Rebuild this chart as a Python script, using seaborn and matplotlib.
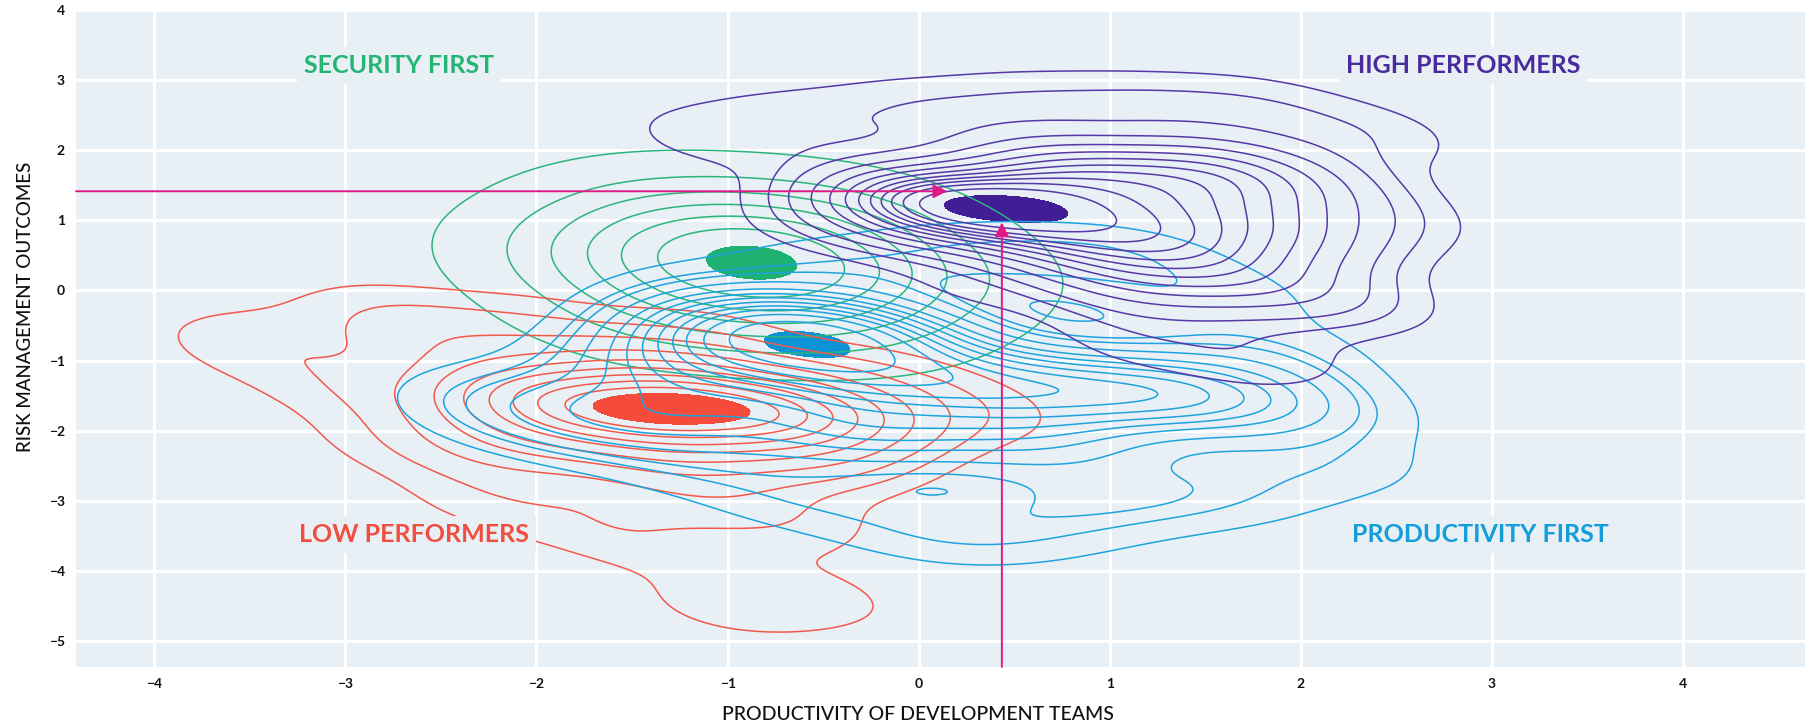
import numpy as np
import pandas as pd
import seaborn as sns
import matplotlib.pyplot as plt
from matplotlib.colors import ListedColormap

# ---------------- data (representative weighted points) ----
# HIGH PERFORMERS
high_x = [-0.05, 0.25, 0.55, 0.85,
          1.20, 1.20, 1.60, 1.60, 1.55, 2.00, 2.00, 1.90, 0.70, 0.80, 1.20,
          -1.10, -0.60, 0.00, 0.60, 1.20, 1.80, 2.40, 2.45, 2.30, 1.80, 1.10, -0.55, 0.20]
high_y = [1.21, 1.20, 1.17, 1.13,
          1.60, 0.75, 1.75, 1.05, 0.35, 1.50, 0.70, 0.00, 1.75, 0.50, 0.00,
          2.20, 2.45, 2.60, 2.70, 2.70, 2.65, 2.20, 1.00, -0.20, -1.00, -0.75, 0.90, 0.00]
high_w = [3.5, 3.5, 2.8, 2.0,
          2.5, 2.6, 2.0, 2.2, 1.8, 1.3, 1.3, 1.0, 2.3, 1.8, 1.3,
          0.6, 0.55, 0.6, 0.6, 0.6, 0.6, 0.6, 0.55, 0.55, 0.65, 0.45, 0.45, 0.35]

# PRODUCTIVITY FIRST
prod_x = [-0.85, -0.55, -0.25,
          -1.20, -0.30, 0.40, 1.10, 1.60,
          -0.30, 0.60, -1.30, -2.00,
          -1.10, -0.40, 0.30, 1.00, 1.50, 1.80, 2.00, 2.10,
          1.50, 0.90, 0.20, 0.70, -0.50, -1.10, -1.80, -2.20]
prod_y = [-0.62, -0.64, -0.70,
          -1.10, -1.20, -1.35, -1.45, -1.50,
          -2.00, -2.10, -1.80, -1.70,
          0.00, 0.30, 0.50, 0.50, -0.10, -0.90, -1.80, -2.50,
          -2.90, -2.95, -3.50, -3.30, -3.00, -2.50, -2.10, -1.40]
prod_w = [3.5, 3, 1.5,
          2, 3, 3, 2.5, 1.5,
          2, 1.5, 1.5, 0.8,
          0.3, 0.5, 0.55, 0.55, 0.5, 0.5, 0.5, 0.5,
          0.55, 0.5, 0.55, 0.35, 0.55, 0.45, 0.3, 0.25]

# LOW PERFORMERS
low_x = [-1.85, -1.45, -1.05, -0.70,
         -2.10, -0.40, -1.30, -1.40, -0.60, -2.10,
         -3.50, -2.80, -2.40, -2.00, -1.10, -0.20, 0.30, -3.00, -2.70, -2.20, -1.50, -0.70,
         -1.00, -0.50, -1.20]
low_y = [-1.65, -1.67, -1.68, -1.68,
         -1.60, -1.75, -2.20, -1.20, -2.30, -2.20,
         -0.75, -0.35, -0.80, -0.50, -0.65, -1.20, -1.70, -1.40, -2.20, -3.00, -3.50, -3.30,
         -4.50, -4.40, -2.80]
low_w = [3.0, 3.5, 3.5, 2.5,
         1.5, 1.5, 1.5, 1.2, 1.2, 1.0,
         0.5, 0.5, 0.5, 0.45, 0.4, 0.35, 0.4, 0.45, 0.4, 0.45, 0.5, 0.45,
         0.4, 0.35, 0.6]

# SECURITY FIRST
sec_x = [-0.88, -0.10, -0.50, -1.30, -1.70, -1.30, -0.45]
sec_y = [0.38, 0.25, 1.00, 1.10, 0.50, -0.30, -0.40]
sec_w = [3, 1.2, 1.2, 1.2, 1.2, 1.2, 1.2]

x_ticks = [-4, -3, -2, -1, 0, 1, 2, 3, 4]
y_ticks = [-5, -4, -3, -2, -1, 0, 1, 2, 3, 4]
quadrant_labels = ["SECURITY FIRST", "HIGH PERFORMERS", "LOW PERFORMERS", "PRODUCTIVITY FIRST"]
label_x = [-2.72, 2.85, -2.64, 2.94]
label_y = [3.21, 3.21, -3.48, -3.48]
ref_x = 0.436   # vertical reference arrow
ref_y = 1.415   # horizontal reference arrow

# ---------------- style ----------------
BG = "#E8F0F6"
C_HIGH, C_HIGH_CORE = "#5638A6", "#421E96"
C_PROD, C_PROD_CORE = "#1EA3DE", "#0C93D6"
C_LOW, C_LOW_CORE = "#F2594A", "#F54B3A"
C_SEC, C_SEC_CORE = "#2BB57A", "#1DB271"
MAGENTA = "#DF1A86"

sns.set_theme(style="darkgrid")
plt.rcParams["font.family"] = ["Lato", "DejaVu Sans"]

fig = plt.figure(figsize=(18.11, 7.25), dpi=100)
ax = fig.add_axes([0.042, 0.08, 0.9547, 0.9062])
ax.set_facecolor(BG)
ax.grid(color="white", linewidth=2.2)
for s in ax.spines.values():
    s.set_visible(False)


def kernel_factor(x, w, target_sigma):
    x = np.asarray(x, float)
    w = np.asarray(w, float)
    m = np.average(x, weights=w)
    sd = np.sqrt(np.average((x - m) ** 2, weights=w))
    return target_sigma / sd


def draw(x, y, w, color, core_color, levels, core_level, sigma):
    xa = np.asarray(x, float)
    ya = np.asarray(y, float)
    wa = np.asarray(w, float)
    bw = kernel_factor(xa, wa, sigma)
    sns.kdeplot(x=xa, y=ya, weights=wa, levels=levels, color=color,
                linewidths=1.1, bw_method=bw, gridsize=300, ax=ax)
    sns.kdeplot(x=xa, y=ya, weights=wa, levels=[core_level, 1], fill=True,
                cmap=ListedColormap([core_color]), bw_method=bw, gridsize=300, ax=ax)


draw(sec_x, sec_y, sec_w, C_SEC, C_SEC_CORE, list(np.linspace(0.06, 0.80, 6)), 0.95, 0.47)
draw(low_x, low_y, low_w, C_LOW, C_LOW_CORE, list(np.linspace(0.05, 0.82, 9)), 0.90, 0.37)
draw(prod_x, prod_y, prod_w, C_PROD, C_PROD_CORE, list(np.linspace(0.04, 0.90, 12)), 0.97, 0.44)
draw(high_x, high_y, high_w, C_HIGH, C_HIGH_CORE, list(np.linspace(0.05, 0.88, 12)), 0.95, 0.37)

ax.set_xlim(-4.41, 4.64)
ax.set_ylim(-5.37, 4.0)

# reference arrows
ax.annotate("", xy=(0.15, ref_y), xytext=(-4.41, ref_y),
            arrowprops=dict(arrowstyle="-|>,head_length=0.7,head_width=0.35", color=MAGENTA, lw=1.4,
                            shrinkA=0, shrinkB=0), zorder=6)
ax.annotate("", xy=(ref_x, 0.97), xytext=(ref_x, -5.37),
            arrowprops=dict(arrowstyle="-|>,head_length=0.7,head_width=0.35", color=MAGENTA, lw=1.4,
                            shrinkA=0, shrinkB=0), zorder=6)

label_colors = ["#22B573", "#4A2A9D", "#F04E3E", "#139DDB"]
for t, lx, ly, c in zip(quadrant_labels, label_x, label_y, label_colors):
    ax.text(lx, ly, t, color=c, fontsize=18, fontweight="bold", ha="center", va="center",
            zorder=7, bbox=dict(facecolor=BG, edgecolor="none", pad=5))

ax.set_xticks(x_ticks)
ax.set_yticks(y_ticks)
ax.set_xticklabels([str(v).replace("-", "\u2212") for v in x_ticks])
ax.set_yticklabels([str(v).replace("-", "\u2212") for v in y_ticks])
ax.tick_params(axis="both", labelsize=10, colors="#111111", length=0, pad=8)
for lab in ax.get_xticklabels() + ax.get_yticklabels():
    lab.set_fontweight("bold")

ax.set_xlabel("PRODUCTIVITY OF DEVELOPMENT TEAMS", fontsize=14, color="#111111", fontweight="medium")
ax.set_ylabel("RISK MANAGEMENT OUTCOMES", fontsize=13.5, color="#111111", fontweight="medium")
ax.xaxis.label.set_va("center")
ax.yaxis.label.set_va("center")
ax.xaxis.set_label_coords(0.487, -0.072)
ax.yaxis.set_label_coords(-0.029, 0.548)

fig.savefig("out.png", dpi=100, facecolor="white")
